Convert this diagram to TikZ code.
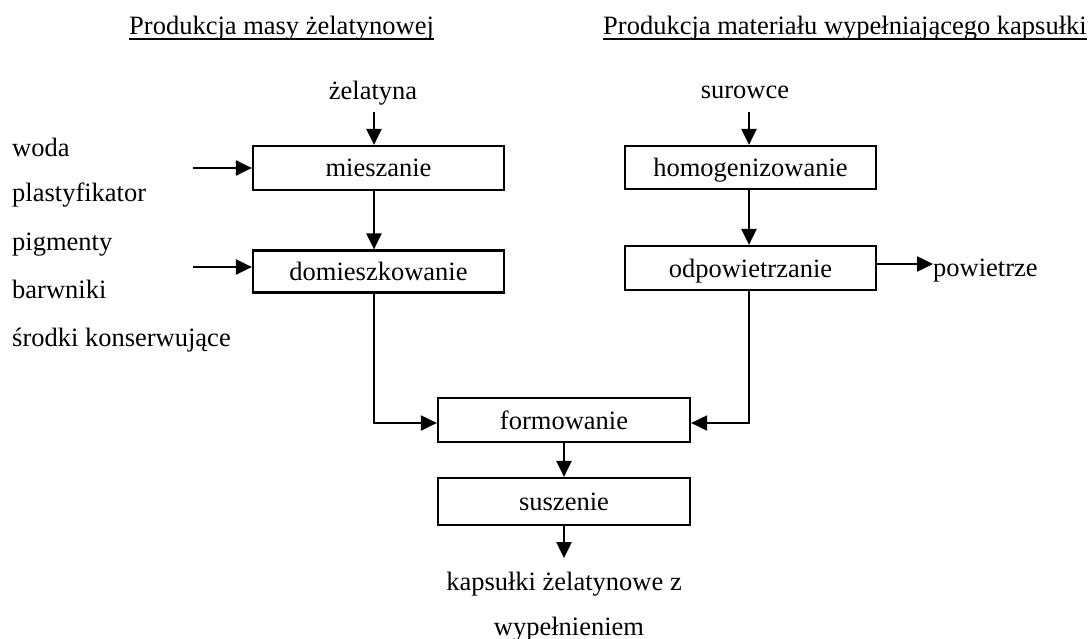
\documentclass[tikz,border=0pt]{standalone}
\usepackage{fontspec}
\setmainfont{Liberation Serif}
\usetikzlibrary{arrows.meta}
\begin{document}
\begin{tikzpicture}[x=1pt,y=-1pt,
  every node/.style={font=\fontsize{26.5}{32}\selectfont, inner sep=0pt},
  stage/.style={draw, line width=2.2pt, minimum width=251pt, minimum height=44pt,
                text height=18pt, text depth=0pt},
  flow/.style={line width=2.5pt, -{Triangle[length=16pt,width=15pt]}},
  joinflow/.style={line width=2pt, -{Triangle[length=16pt,width=15pt]}},
  lbl/.style={anchor=base west},
  ttl/.style={anchor=base west},
  uline/.style={line width=2.2pt},
]
\useasboundingbox (0,0) rectangle (1092,639);

% column titles
\node[ttl] (t1) at (129,35) {Produkcja masy żelatynowej};
\node[ttl] (t2) at (603,35) {Produkcja materiału wypełniającego kapsułki};
\draw[uline] ([yshift=-4pt]t1.base west) -- ([yshift=-4pt]t1.base east);
\draw[uline] ([yshift=-4pt]t2.base west) -- ([yshift=-4pt]t2.base east);

% process steps
\node[stage] (mix) at (378.5,168) {mieszanie};
\node[stage, minimum height=42pt] (dom) at (378.5,271.5) {domieszkowanie};
\node[stage, minimum height=43pt] (hom) at (750.5,167.5) {homogenizowanie};
\node[stage] (odp) at (750.5,268) {odpowietrzanie};
\node[stage, minimum width=252pt] (form) at (564,420) {formowanie};
\node[stage, minimum width=252pt, minimum height=47pt] (sus) at (564,501.5) {suszenie};

% raw materials
\node[anchor=base] (zel) at (373,100) {żelatyna};
\node[anchor=base] (sur) at (745,99) {surowce};
\node[lbl] (woda) at (12,157) {woda};
\node[lbl] (plast) at (12,202) {plastyfikator};
\node[lbl] (pigm) at (12,250) {pigmenty};
\node[lbl] (barw) at (12,298) {barwniki};
\node[lbl] (kons) at (12,346) {środki konserwujące};

% outputs
\node[anchor=base west] (air) at (933,276) {powietrze};
\node[anchor=base] (prod1) at (564,590) {kapsułki żelatynowe z};
\node[anchor=base] (prod2) at (569,635) {wypełnieniem};

% connector ends
\coordinate (zelout) at (374,112);
\coordinate (surout) at (749,112);
\coordinate (inA) at (193,168);
\coordinate (inB) at (193,267);
\coordinate (prodin) at (564,558);

% flows
\draw[flow] (zelout) -- (zelout |- mix.north);
\draw[flow] (surout) -- (surout |- hom.north);
\draw[flow] (inA) -- (inA -| mix.west);
\draw[flow] (inB) -- (inB -| dom.west);
\draw[flow] ([xshift=-4.5pt]mix.south) -- ([xshift=-4.5pt]dom.north);
\draw[flow] ([xshift=-1.5pt]hom.south) -- ([xshift=-1.5pt]odp.north);
\draw[flow] ([yshift=4pt]odp.east) -- ([yshift=4pt]odp.east -| air.west);
\draw[joinflow] ([xshift=-4.5pt]dom.south) |- ([yshift=-3pt]form.west);
\draw[joinflow] ([xshift=-1.5pt]odp.south) |- ([yshift=-3pt]form.east);
\draw[flow] (form.south) -- (sus.north);
\draw[flow] (sus.south) -- (prodin);
\end{tikzpicture}
\end{document}
